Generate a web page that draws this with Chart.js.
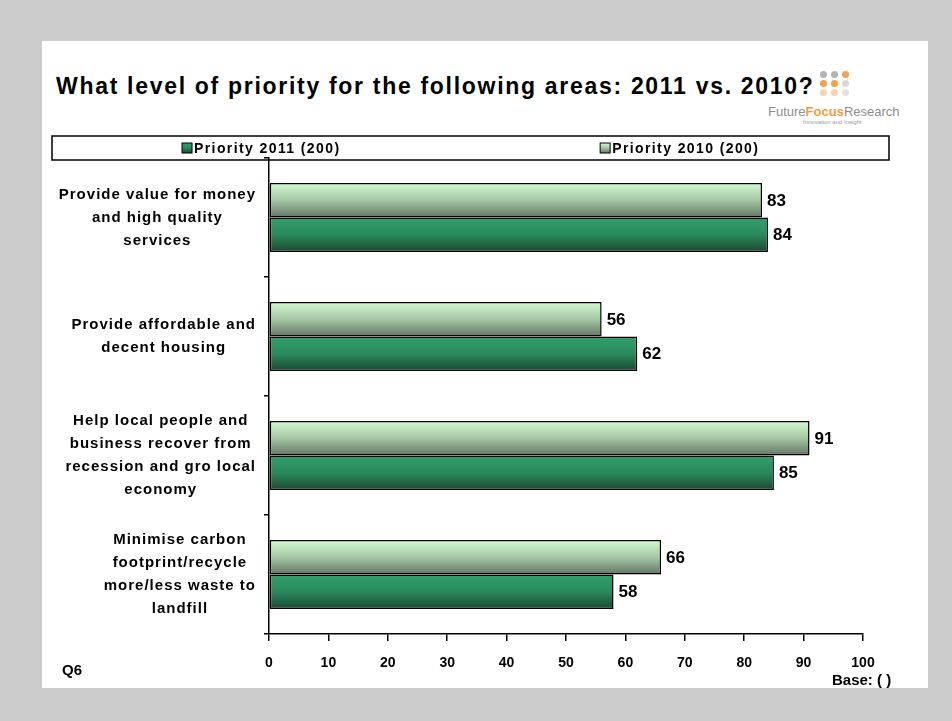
<!DOCTYPE html>
<html>
<head>
<meta charset="utf-8">
<title>Priority areas 2011 vs 2010</title>
<script src="https://cdn.jsdelivr.net/npm/chart.js"></script>
<style>
  body { margin: 0; background: #cccccc; width: 952px; height: 721px; overflow: hidden;
         font-family: "Liberation Sans", Arial, sans-serif; }
  #panel { position: absolute; left: 42px; top: 41px; width: 886px; height: 647px; background: #fff; }
  #title { position: absolute; left: 56px; top: 73px; font-size: 23px; font-weight: bold; letter-spacing: 1.7px;
           color: #000; white-space: nowrap; line-height: 26px; }
  #logoText { position: absolute; left: 768px; top: 104px; font-size: 13px; color: #8c8c8c;
              white-space: nowrap; line-height: 15px; }
  #logoText b { color: #f39b3f; }
  #logoTag { position: absolute; left: 803px; top: 119px; font-size: 6px; color: #9a9a9a; white-space: nowrap; }
  .dot { position: absolute; width: 7px; height: 7px; border-radius: 50%; }
  #q6 { position: absolute; left: 62px; top: 661px; font-size: 15px; font-weight: bold; line-height: 18px; }
  #base { position: absolute; left: 832px; top: 671px; font-size: 15px; font-weight: bold; line-height: 18px; }
  #priorityChart { position: absolute; left: 0; top: 0; }
</style>
</head>
<body>
<div id="panel"></div>
<div id="title">What level of priority for the following areas: 2011 vs. 2010?</div>
<div id="logoDots"></div>
<div id="logoText">Future<b>Focus</b>Research</div>
<div id="logoTag">Innovation and Insight</div>
<canvas id="priorityChart" width="952" height="721"></canvas>
<div id="q6">Q6</div>
<div id="base">Base: ( )</div>
<script>
const categories = [
    ['Provide value for money', 'and high quality', 'services'],
    ['Provide affordable and', 'decent housing'],
    ['Help local people and', 'business recover from', 'recession and gro local', 'economy'],
    ['Minimise carbon', 'footprint/recycle', 'more/less waste to', 'landfill']
];
const priority2011 = [84, 62, 85, 58];
const priority2010 = [83, 56, 91, 66];
const seriesNames = ['Priority 2011 (200)', 'Priority 2010 (200)'];
const xMin = 0, xMax = 100, xStep = 10;

// gradient stops, top to bottom
const darkStops = ['#31a06b', '#2a8a5b', '#1b4832'];
const lightStops = ['#d2fbd2', '#a5c6a5', '#637763'];
const catPct = 0.58;

// logo dots
const dotColors = [
    ['#b3b3b3', '#b3b3b3', '#f5a04c'],
    ['#f5a04c', '#f5a04c', '#d9d9d9'],
    ['#fbd2ad', '#fbd2ad', '#e3e3e3']
];
const dotsBox = document.getElementById('logoDots');
dotColors.forEach((row, r) => {
    row.forEach((c, k) => {
        const d = document.createElement('div');
        d.className = 'dot';
        d.style.left = (820 + k * 11) + 'px';
        d.style.top = (71 + r * 9) + 'px';
        d.style.background = c;
        dotsBox.appendChild(d);
    });
});

function fillGradient(ctx, top, h, stops) {
    const g = ctx.createLinearGradient(0, top, 0, top + h);
    g.addColorStop(0, stops[0]);
    g.addColorStop(0.5, stops[1]);
    g.addColorStop(1, stops[2]);
    return g;
}

function barGradient(stops) {
    return function(context) {
        const chart = context.chart;
        const yScale = chart.scales.y;
        if (context.type !== 'data' || !chart.chartArea || !yScale) return stops[1];
        const band = yScale.height / categories.length;
        const group = band * catPct;
        const barH = group / 2;
        const top = yScale.getPixelForValue(context.dataIndex) - group / 2 + context.datasetIndex * barH;
        return fillGradient(chart.ctx, top, barH, stops);
    };
}

// category names: each block right aligned, lines centred inside it
const categoryLabels = {
    id: 'categoryLabels',
    afterDraw(chart) {
        const ctx = chart.ctx;
        const yScale = chart.scales.y;
        ctx.save();
        ctx.font = 'bold 15px "Liberation Sans", Arial';
        ctx.letterSpacing = '1px';
        ctx.fillStyle = '#000';
        ctx.textAlign = 'center';
        ctx.textBaseline = 'middle';
        categories.forEach((lines, i) => {
            const cy = yScale.getPixelForValue(i);
            const w = Math.max(...lines.map(l => ctx.measureText(l).width));
            const cx = 256 - w / 2;
            lines.forEach((l, k) => {
                ctx.fillText(l, cx, cy + (k - (lines.length - 1) / 2) * 23);
            });
        });
        ctx.restore();
    }
};

const valueLabels = {
    id: 'valueLabels',
    afterDatasetsDraw(chart) {
        const ctx = chart.ctx;
        ctx.save();
        ctx.font = 'bold 17px "Liberation Sans", Arial';
        ctx.fillStyle = '#000';
        ctx.textAlign = 'left';
        ctx.textBaseline = 'middle';
        chart.data.datasets.forEach((ds, di) => {
            chart.getDatasetMeta(di).data.forEach((bar, i) => {
                ctx.fillText(ds.data[i], bar.x + 5, bar.y + 1);
            });
        });
        ctx.restore();
    }
};

// boxed legend, two items each centred in half the box
const boxLegend = {
    id: 'boxLegend',
    afterDraw(chart) {
        const ctx = chart.ctx;
        const left = 52, right = 889, top = 136, bottom = 160;
        ctx.save();
        ctx.lineWidth = 1.5;
        ctx.strokeStyle = '#000';
        ctx.strokeRect(left, top, right - left, bottom - top);
        ctx.font = 'bold 14px "Liberation Sans", Arial';
        ctx.letterSpacing = '1.4px';
        ctx.textBaseline = 'middle';
        ctx.textAlign = 'left';
        const items = chart.data.datasets.slice().reverse();
        const half = (right - left) / items.length;
        items.forEach((ds, k) => {
            const tw = ctx.measureText(ds.label).width;
            const start = left + half * k + half / 2 - (12 + tw) / 2;
            const my = (top + bottom) / 2;
            ctx.fillStyle = fillGradient(ctx, my - 5, 10, ds.stops);
            ctx.fillRect(start, my - 5, 10, 10);
            ctx.lineWidth = 1;
            ctx.strokeRect(start, my - 5, 10, 10);
            ctx.fillStyle = '#000';
            ctx.fillText(ds.label, start + 12, my + 1);
        });
        ctx.restore();
    }
};

const ctx = document.getElementById('priorityChart').getContext('2d');
const chart = new Chart(ctx, {
    type: 'bar',
    data: {
        labels: categories,
        datasets: [{
            label: seriesNames[1],
            data: priority2010,
            stops: lightStops,
            backgroundColor: barGradient(lightStops)
        }, {
            label: seriesNames[0],
            data: priority2011,
            stops: darkStops,
            backgroundColor: barGradient(darkStops)
        }]
    },
    options: {
        indexAxis: 'y',
        responsive: false,
        animation: false,
        devicePixelRatio: 1,
        events: [],
        categoryPercentage: catPct,
        barPercentage: 1,
        borderColor: '#000',
        borderWidth: 1.5,
        borderSkipped: false,
        layout: { padding: { left: 264, right: 89, top: 158, bottom: 47 } },
        plugins: { legend: { display: false }, tooltip: { enabled: false } },
        scales: {
            x: {
                min: xMin,
                max: xMax,
                border: { color: '#000', width: 1.5 },
                grid: { drawOnChartArea: false, color: '#000', lineWidth: 1.5, tickLength: 7 },
                ticks: { stepSize: xStep, color: '#000', padding: 14,
                         font: { family: '"Liberation Sans", Arial', size: 14, weight: 'bold' } },
                afterFit(scale) { scale.height = 40; }
            },
            y: {
                border: { color: '#000', width: 1.5 },
                grid: { drawOnChartArea: false, color: '#000', lineWidth: 1.5, tickLength: 5 },
                ticks: { display: false },
                afterFit(scale) { scale.width = 5; }
            }
        }
    },
    plugins: [categoryLabels, valueLabels, boxLegend]
});
</script>
</body>
</html>
